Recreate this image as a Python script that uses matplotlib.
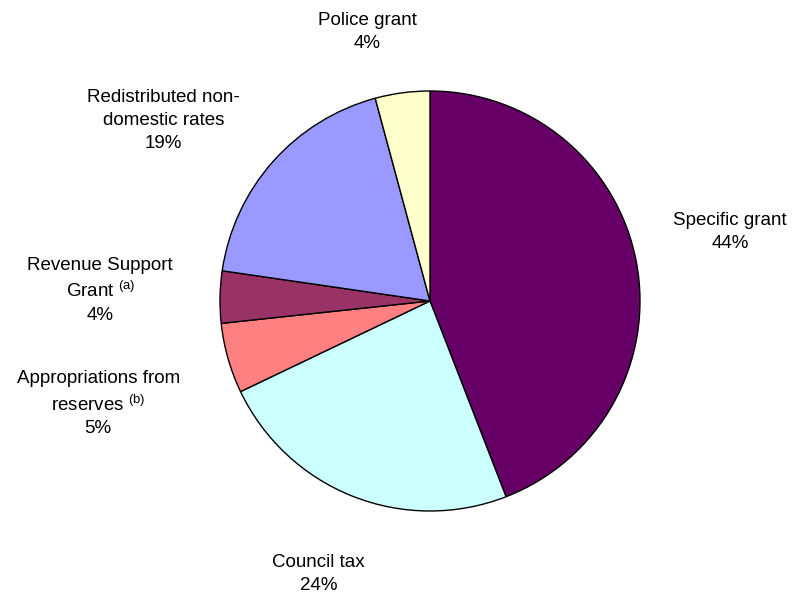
import matplotlib

matplotlib.use("Agg")
import matplotlib.pyplot as plt
import numpy as np

plt.rcParams["font.family"] = ["Liberation Sans", "DejaVu Sans"]
plt.rcParams["mathtext.fontset"] = "custom"
plt.rcParams["mathtext.rm"] = "Liberation Sans"
plt.rcParams["mathtext.it"] = "Liberation Sans"

# data, clockwise from 12 o'clock
labels = [
    "Specific grant",
    "Council tax",
    "Appropriations from\nreserves $^{\\mathrm{(b)}}$",
    "Revenue Support\nGrant $^{\\mathrm{(a)}}$",
    "Redistributed non-\ndomestic rates",
    "Police grant",
]
shares = [44.1, 23.8, 5.4, 4.0, 18.5, 4.2]
pct_labels = ["44%", "24%", "5%", "4%", "19%", "4%"]
colors = ["#660066", "#CCFFFF", "#FF8080", "#993366", "#9999FF", "#FFFFCC"]

# label centres, in pie radii from the centre
label_pos = [(1.43, 0.33), (-0.53, -1.30), (-1.58, -0.49),
             (-1.57, 0.05), (-1.27, 0.86), (-0.30, 1.28)]

fig = plt.figure(figsize=(7.95, 5.98), dpi=100)
ax = fig.add_axes([0, 0, 1, 1])
ax.pie(shares, colors=colors, startangle=90, counterclock=False,
       wedgeprops=dict(edgecolor="black", linewidth=1.0))

for lab, pct, (x, y) in zip(labels, pct_labels, label_pos):
    ax.text(x, y, f"{lab}\n{pct}", ha="center", va="center",
            multialignment="center", fontsize=13.5, linespacing=1.45)

ax.set_xlim(-430 / 210, 365 / 210)
ax.set_ylim(-297 / 210, 301 / 210)
ax.set_aspect("equal")
ax.axis("off")

fig.savefig("out.png", dpi=100, facecolor="white")
